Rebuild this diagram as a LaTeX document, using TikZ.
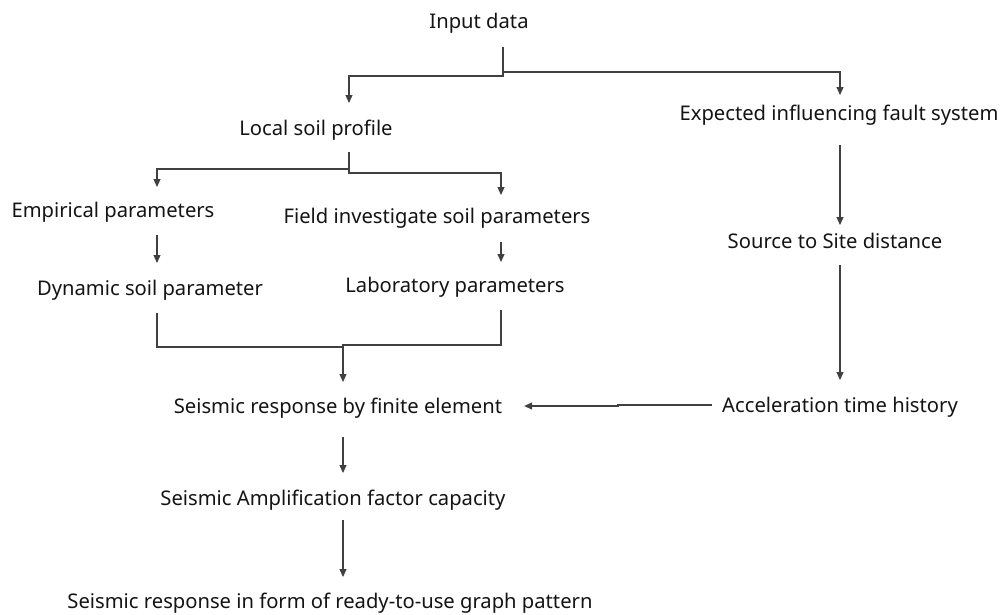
\documentclass[tikz,border=0pt]{standalone}
\usepackage{fontspec}
\setmainfont{Noto Sans}
\usetikzlibrary{arrows.meta}
\begin{document}
\begin{tikzpicture}[x=1pt,y=-1pt,
  lbl/.style={inner sep=0pt,outer sep=0pt,anchor=base,text height=15pt,text depth=5pt,
    font=\fontsize{20.2}{23}\selectfont,text=black!92},
  ln/.style={line width=1.1pt,draw=black!75},
  arr/.style={ln,-{Triangle[length=8pt,width=7pt]}}]
\useasboundingbox[fill=white] (0,0) rectangle (1006,614);
% nodes
\node[lbl] (in)    at (479,28)  {Input data};
\node[lbl] (lsp)   at (316,135) {Local soil profile};
\node[lbl] (exp)   at (839,120) {Expected influencing fault system};
\node[lbl] (emp)   at (113,217) {Empirical parameters};
\node[lbl] (field) at (437,223) {Field investigate soil parameters};
\node[lbl] (dyn)   at (150,295) {Dynamic soil parameter};
\node[lbl] (lab)   at (455,292) {Laboratory parameters};
\node[lbl] (src)   at (835,248) {Source to Site distance};
\node[lbl] (sr)    at (338,413) {Seismic response by finite element};
\node[lbl] (acc)   at (840,412) {Acceleration time history};
\node[lbl] (amp)   at (333,505) {Seismic Amplification factor capacity};
\node[lbl] (out)   at (330,608) {Seismic response in form of ready-to-use graph pattern};
% connectors
\draw[arr] ([xshift=24pt,yshift=-14pt]in.south) |- (349,76) -- ([xshift=33pt,yshift=17pt]lsp.north);
\draw[arr] ([xshift=24pt,yshift=-14pt]in.south) |- (840,72) -- ([xshift=1pt,yshift=10pt]exp.north);
\draw[arr] ([xshift=33pt,yshift=-12pt]lsp.south) |- (157,169) -- ([xshift=44pt,yshift=15pt]emp.north);
\draw[arr] ([xshift=33pt,yshift=-12pt]lsp.south) |- (501,173) -- ([xshift=64pt,yshift=13pt]field.north);
\draw[arr] ([xshift=44pt,yshift=-13pt]emp.south) -- ([xshift=7pt,yshift=17pt]dyn.north);
\draw[arr] ([xshift=64pt,yshift=-14pt]field.south) -- ([xshift=46pt,yshift=15pt]lab.north);
\coordinate (m) at (343,347);
\draw[arr] ([xshift=7pt,yshift=-13pt]dyn.south) |- (m) -- ([xshift=5pt,yshift=16pt]sr.north);
\draw[ln] ([xshift=46pt,yshift=-13pt]lab.south) |- (343,345) -- (m);
\draw[arr] ([xshift=1pt,yshift=-20pt]exp.south) -- ([xshift=5pt,yshift=8pt]src.north);
\draw[arr] ([xshift=5pt,yshift=-12pt]src.south) -- ([yshift=17pt]acc.north);
\draw[arr] ([xshift=-10pt,yshift=2pt]acc.west) -- (618,405) -- (618,406) -- ([xshift=22pt,yshift=2pt]sr.east);
\draw[arr] ([xshift=5pt,yshift=-19pt]sr.south) -- ([xshift=10pt,yshift=17pt]amp.north);
\draw[arr] ([xshift=10pt,yshift=-10pt]amp.south) -- ([xshift=13pt,yshift=16pt]out.north);
\end{tikzpicture}
\end{document}
